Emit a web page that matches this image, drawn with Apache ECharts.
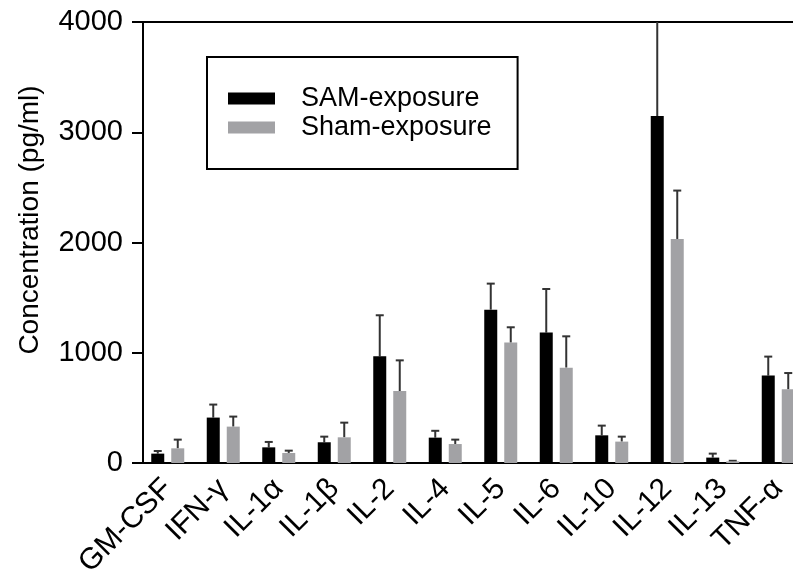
<!DOCTYPE html>
<html>
<head>
<meta charset="utf-8">
<script src="https://cdn.jsdelivr.net/npm/echarts@6/dist/echarts.min.js"></script>
<style>
  html, body { margin: 0; padding: 0; background: #fff; }
  #chart { width: 793px; height: 586px; }
</style>
</head>
<body>
<div id="chart"></div>
<script>
// cytokine panel
var categories = ['GM-CSF', 'IFN-γ', 'IL-1α', 'IL-1β', 'IL-2', 'IL-4', 'IL-5', 'IL-6', 'IL-10', 'IL-12', 'IL-13', 'TNF-α'];
var samMean  = [85, 412, 142, 188, 968, 230, 1391, 1183, 251, 3147, 49, 793];
var samSd    = [24, 118, 49, 51, 372, 62, 236, 395, 88, 1000, 36, 172];
var shamMean = [133, 330, 91, 233, 653, 172, 1092, 865, 194, 2032, 15, 668];
var shamSd   = [79, 91, 21, 133, 278, 40, 139, 284, 45, 439, 5, 148];
var yTicks = [0, 1000, 2000, 3000, 4000];

var FONT = '"Liberation Sans", Arial, sans-serif';
var BAR_W = 13, BAR_GAP = 7;

function errData(mean, sd) {
    return mean.map(function (m, i) { return [i, m, m + sd[i]]; });
}

function errRender(shift) {
    return function (params, api) {
        var base = api.coord([api.value(0), api.value(1)]);
        var top = api.coord([api.value(0), api.value(2)]);
        var x = base[0] + shift;
        var st = { stroke: '#333', lineWidth: 2 };
        return {
            type: 'group',
            children: [
                { type: 'line', shape: { x1: x, y1: base[1], x2: x, y2: top[1] }, style: st },
                { type: 'line', shape: { x1: x - 4, y1: top[1], x2: x + 4, y2: top[1] }, style: st }
            ]
        };
    };
}

var chart = echarts.init(document.getElementById('chart'));
var off = (BAR_W + BAR_GAP) / 2;

var option = {
    animation: false,
    textStyle: { fontFamily: FONT },
    grid: { left: 140, top: 22, right: -13, bottom: 123, containLabel: false, outerBoundsMode: 'none' },
    legend: {
        data: ['SAM-exposure', 'Sham-exposure'],
        orient: 'vertical',
        left: 207,
        top: 57,
        padding: [28, 26, 28, 21],
        itemWidth: 47,
        itemHeight: 12,
        itemGap: 2,
        borderColor: '#000',
        borderWidth: 2,
        icon: 'rect',
        textStyle: { fontSize: 27, color: '#000', fontFamily: FONT, padding: [0, 0, 0, 21] }
    },
    graphic: [{
        type: 'text',
        x: 30,
        y: 220,
        rotation: Math.PI / 2,
        style: {
            text: 'Concentration (pg/ml)',
            font: '28px ' + FONT,
            fill: '#000',
            align: 'center',
            verticalAlign: 'middle'
        }
    }],
    xAxis: [{
        type: 'category',
        data: categories,
        axisLine: { lineStyle: { color: '#000', width: 2 } },
        axisTick: { alignWithLabel: true, length: 11, lineStyle: { color: '#000', width: 2 } },
        axisLabel: { rotate: 45, fontSize: 30, color: '#000', margin: 21, interval: 0, fontFamily: FONT }
    }, {
        type: 'category',
        position: 'top',
        data: categories,
        axisLine: { lineStyle: { color: '#000', width: 2 } },
        axisTick: { show: false },
        axisLabel: { show: false }
    }],
    yAxis: {
        type: 'value',
        min: yTicks[0],
        max: yTicks[yTicks.length - 1],
        interval: 1000,
        offset: -3,
        splitLine: { show: false },
        axisLine: { show: true, lineStyle: { color: '#000', width: 2 } },
        axisTick: { show: true, length: 11, lineStyle: { color: '#000', width: 2 } },
        axisLabel: { fontSize: 29, color: '#000', margin: 20, fontFamily: FONT,
            formatter: function (v) { return String(v); } }
    },
    series: [
        {
            name: 'SAM-exposure',
            type: 'bar',
            data: samMean,
            barWidth: BAR_W,
            barGap: (BAR_GAP / BAR_W * 100) + '%',
            itemStyle: { color: '#000' },
            z: 2
        },
        {
            name: 'Sham-exposure',
            type: 'bar',
            data: shamMean,
            barWidth: BAR_W,
            itemStyle: { color: '#a2a2a5' },
            z: 2
        },
        {
            name: 'SAM-err',
            type: 'custom',
            renderItem: errRender(-off),
            data: errData(samMean, samSd),
            encode: { x: 0, y: [1, 2] },
            clip: true,
            z: 1
        },
        {
            name: 'Sham-err',
            type: 'custom',
            renderItem: errRender(off),
            data: errData(shamMean, shamSd),
            encode: { x: 0, y: [1, 2] },
            clip: true,
            z: 1
        }
    ]
};

chart.setOption(option);
window.addEventListener('resize', chart.resize);
</script>
</body>
</html>
